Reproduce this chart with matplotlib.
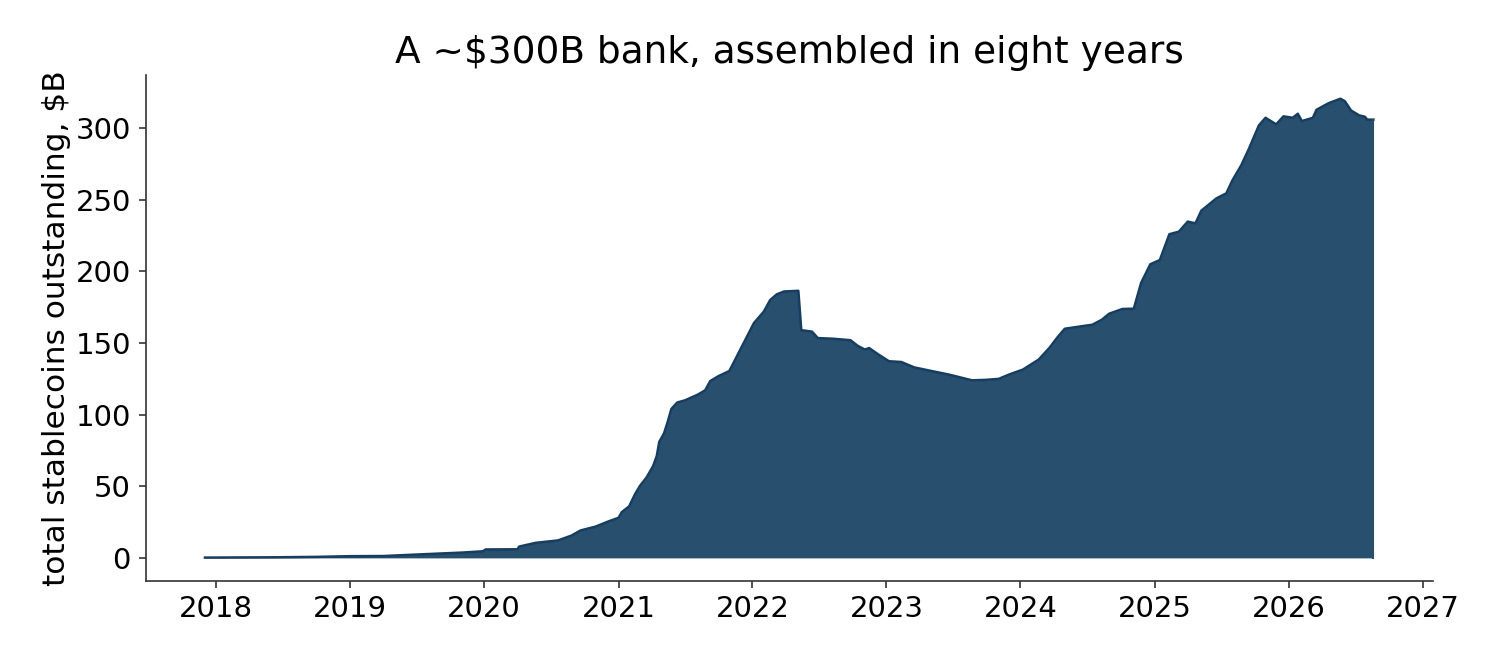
import matplotlib
matplotlib.use("Agg")
import matplotlib.pyplot as plt
import matplotlib.dates as mdates
import pandas as pd

# total stablecoin supply, $B
dates = [
    "2017-12-01", "2018-06-01", "2018-10-01", "2019-01-01", "2019-04-01",
    "2019-07-15", "2019-11-01", "2019-12-28", "2020-01-05", "2020-04-01",
    "2020-04-05", "2020-05-20", "2020-07-20", "2020-08-25", "2020-09-20",
    "2020-10-30", "2020-12-05", "2021-01-01", "2021-01-10", "2021-01-30",
    "2021-02-15", "2021-03-01", "2021-03-18", "2021-04-05", "2021-04-15",
    "2021-04-22", "2021-05-05", "2021-05-15", "2021-05-25", "2021-06-10",
    "2021-07-01", "2021-08-05", "2021-08-25", "2021-09-08", "2021-10-01",
    "2021-10-30", "2021-11-18", "2021-12-10", "2022-01-05", "2022-02-01",
    "2022-02-18", "2022-03-08", "2022-03-28", "2022-05-06", "2022-05-14",
    "2022-06-12", "2022-06-28", "2022-08-10", "2022-09-25", "2022-10-15",
    "2022-11-03", "2022-11-15", "2022-12-10", "2023-01-08", "2023-02-10",
    "2023-03-18", "2023-04-28", "2023-06-20", "2023-08-22", "2023-09-28",
    "2023-11-03", "2023-12-01", "2024-01-08", "2024-02-20", "2024-03-20",
    "2024-04-12", "2024-05-01", "2024-06-15", "2024-07-15", "2024-08-10",
    "2024-08-30", "2024-10-05", "2024-11-05", "2024-11-25", "2024-12-20",
    "2025-01-15", "2025-02-10", "2025-03-08", "2025-04-01", "2025-04-22",
    "2025-05-08", "2025-06-18", "2025-07-15", "2025-08-01", "2025-08-25",
    "2025-09-15", "2025-10-12", "2025-10-30", "2025-11-28", "2025-12-18",
    "2026-01-12", "2026-01-26", "2026-02-06", "2026-03-08", "2026-03-18",
    "2026-04-20", "2026-05-22", "2026-06-03", "2026-06-20", "2026-07-12",
    "2026-07-28", "2026-08-03", "2026-08-20",
]
supply = [
    0.2, 0.4, 0.7, 1.2, 1.3,
    2.5, 3.7, 4.6, 5.9, 6.0,
    7.9, 10.5, 12.2, 15.5, 19.2,
    21.8, 25.5, 28.0, 32.0, 36.0,
    44.5, 50.5, 56.0, 64.0, 71.0,
    81.0, 87.0, 95.0, 104.0, 108.5,
    110.0, 114.0, 117.0, 123.5, 127.0,
    130.5, 140.0, 151.0, 164.0, 172.0,
    180.0, 184.0, 186.0, 186.5, 159.0,
    158.0, 153.5, 153.0, 152.0, 148.0,
    145.5, 146.5, 142.0, 137.3, 136.8,
    133.0, 130.8, 128.0, 124.0, 124.3,
    125.0, 128.0, 131.5, 138.5, 146.6,
    154.3, 160.0, 161.7, 162.8, 166.3,
    170.5, 173.8, 174.0, 192.0, 205.0,
    208.0, 226.0, 227.8, 234.8, 233.6,
    242.4, 251.0, 254.5, 263.7, 274.2,
    285.8, 302.0, 307.3, 302.7, 308.3,
    307.3, 310.1, 305.0, 307.3, 312.9,
    317.5, 320.6, 318.9, 312.4, 309.0,
    308.0, 306.0, 306.0,
]

x = pd.to_datetime(dates)

fig, ax = plt.subplots(figsize=(10, 4.4), dpi=150)
ax.fill_between(x, supply, 0, color="#284f6e", linewidth=0)
ax.plot(x, supply, color="#173d5f", linewidth=1.2)
ax.plot([x[-1], x[-1]], [0, supply[-1]], color="#284f6e", linewidth=1)

ax.set_title("A ~$300B bank, assembled in eight years", fontsize=18)
ax.set_ylabel("total stablecoins outstanding, $B", fontsize=15, labelpad=2)
ax.tick_params(labelsize=14, color="#333333")
ax.xaxis.set_major_locator(mdates.YearLocator())
ax.xaxis.set_major_formatter(mdates.DateFormatter("%Y"))
ax.set_xlim(pd.Timestamp("2017-06-22"), pd.Timestamp("2027-01-28"))
ax.set_ylim(-16, 337)

for side in ["top", "right"]:
    ax.spines[side].set_visible(False)
for side in ["left", "bottom"]:
    ax.spines[side].set_color("#333333")

plt.subplots_adjust(left=0.097, right=0.955, bottom=0.12, top=0.886)
plt.savefig("out.png")
